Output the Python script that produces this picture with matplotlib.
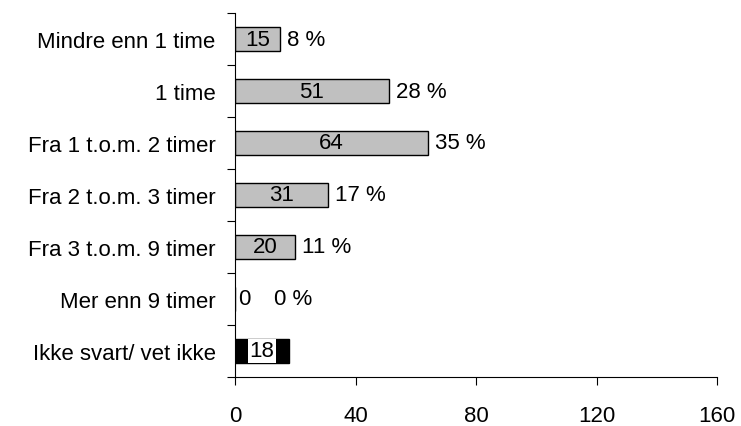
import matplotlib
matplotlib.use("Agg")
import matplotlib.pyplot as plt
import numpy as np

categories = ["Mindre enn 1 time", "1 time", "Fra 1 t.o.m. 2 timer",
              "Fra 2 t.o.m. 3 timer", "Fra 3 t.o.m. 9 timer",
              "Mer enn 9 timer", "Ikke svart/ vet ikke"]
counts = [15, 51, 64, 31, 20, 0, 18]
percents = [8, 28, 35, 17, 11, 0, None]
bar_colors = ["#c0c0c0"] * 6 + ["#000000"]
x_ticks = [0, 40, 80, 120, 160]

plt.rcParams["font.family"] = ["Liberation Sans", "DejaVu Sans"]
FS = 16
plt.rcParams["font.size"] = FS

fig = plt.figure(figsize=(7.41, 4.27), dpi=100)
ax = fig.add_axes([235 / 741, 1 - 378 / 427, (717 - 235) / 741, (378 - 14) / 427])

y = np.arange(len(categories))
ax.barh(y, counts, height=0.45, color=bar_colors, edgecolor="black", linewidth=1)

for yi, c, p, col in zip(y, counts, percents, bar_colors):
    if col == "#000000":
        ax.text(c / 2, yi, str(c), ha="center", va="center", fontsize=FS,
                bbox=dict(facecolor="white", edgecolor="none",
                          boxstyle="square,pad=0.08"))
    elif c == 0:
        ax.annotate(str(c), (0, yi), xytext=(2.5, 0), textcoords="offset points",
                    ha="left", va="center", fontsize=FS)
    else:
        ax.text(c / 2, yi, str(c), ha="center", va="center", fontsize=FS)
    if p is not None:
        ax.annotate(f"{p} %", (c, yi), xytext=(28 if c == 0 else 5, 0),
                    textcoords="offset points", ha="left", va="center", fontsize=FS)

ax.set_xlim(0, 160)
ax.set_ylim(len(categories) - 0.5, -0.5)
ax.set_xticks(x_ticks)
ax.set_xticklabels([str(t) for t in x_ticks])
ax.set_yticks(y)
ax.set_yticklabels(categories)
ax.set_yticks(np.arange(len(categories) + 1) - 0.5, minor=True)

ax.tick_params(axis="y", which="major", length=0, pad=14)
ax.tick_params(axis="y", which="minor", length=6, direction="out", width=0.8)
ax.tick_params(axis="x", which="major", length=6, direction="out", width=0.8, pad=14)

for s in ("top", "right"):
    ax.spines[s].set_visible(False)
for s in ("left", "bottom"):
    ax.spines[s].set_linewidth(0.8)

fig.savefig("out.png", dpi=100)
